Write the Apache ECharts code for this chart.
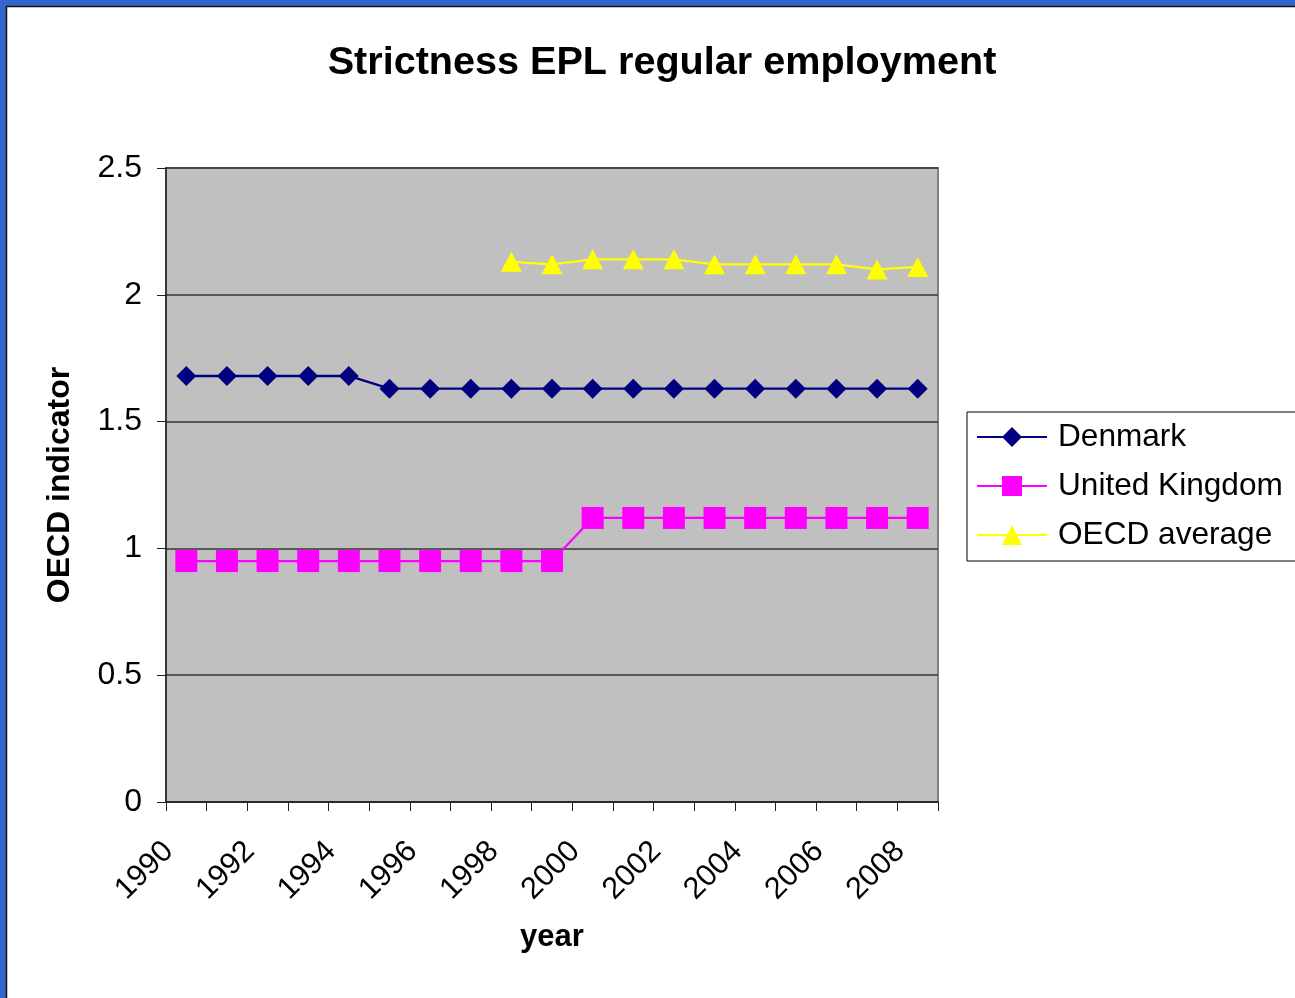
<!DOCTYPE html>
<html>
<head>
<meta charset="utf-8">
<script src="https://cdn.jsdelivr.net/npm/echarts@6/dist/echarts.min.js"></script>
<style>
  html, body { margin: 0; padding: 0; background: #ffffff; }
  #chart { width: 1295px; height: 998px; }
</style>
</head>
<body>
<div id="chart"></div>
<script>
// Employment protection legislation, regular contracts (OECD indicator)
const years = ['1990','1991','1992','1993','1994','1995','1996','1997','1998','1999',
               '2000','2001','2002','2003','2004','2005','2006','2007','2008'];
const denmark = [1.68,1.68,1.68,1.68,1.68,1.63,1.63,1.63,1.63,1.63,
                 1.63,1.63,1.63,1.63,1.63,1.63,1.63,1.63,1.63];
const unitedKingdom = [0.95,0.95,0.95,0.95,0.95,0.95,0.95,0.95,0.95,0.95,
                       1.12,1.12,1.12,1.12,1.12,1.12,1.12,1.12,1.12];
const oecdAverage = [null,null,null,null,null,null,null,null,2.13,2.12,
                     2.14,2.14,2.14,2.12,2.12,2.12,2.12,2.10,2.11];
const yTicks = { min: 0, max: 2.5, interval: 0.5 };

const FONT = 'Arial, "Liberation Sans", sans-serif';
const chart = echarts.init(document.getElementById('chart'), null, { renderer: 'canvas' });

chart.setOption({
  backgroundColor: '#ffffff',
  animation: false,
  title: {
    text: 'Strictness EPL regular employment',
    left: 657, top: 38, textAlign: 'center',
    textStyle: { fontFamily: FONT, fontSize: 39.6, fontWeight: 'bold', color: '#000' }
  },
  legend: {
    left: 967, top: 412,
    orient: 'vertical',
    backgroundColor: '#ffffff',
    borderColor: '#000000', borderWidth: 1,
    padding: [9, 80, 10, 9],
    itemWidth: 70, itemHeight: 25, itemGap: 17,
    textStyle: { fontFamily: FONT, fontSize: 31.6, color: '#000', lineHeight: 32, padding: [0, 0, 0, 6] },
    data: ['Denmark', 'United Kingdom', 'OECD average']
  },
  grid: {
    left: 166, top: 168, width: 772, height: 634,
    show: true, backgroundColor: '#c0c0c0', borderColor: '#808080', borderWidth: 2,
    containLabel: false
  },
  xAxis: {
    type: 'category',
    data: years,
    boundaryGap: true,
    name: 'year',
    nameLocation: 'middle',
    nameGap: 120,
    nameTextStyle: { fontFamily: FONT, fontSize: 31, fontWeight: 'bold', color: '#000' },
    axisLine: { lineStyle: { color: '#202020', width: 1.5 } },
    axisTick: { show: true, interval: 0, length: 9, lineStyle: { color: '#202020', width: 1 } },
    axisLabel: {
      interval: 1, rotate: 45, margin: 27,
      padding: [0, 25, 0, 0],
      fontFamily: FONT, fontSize: 30.5, color: '#000'
    },
    splitLine: { show: false }
  },
  yAxis: {
    type: 'value',
    min: yTicks.min, max: yTicks.max, interval: yTicks.interval,
    name: 'OECD indicator',
    nameLocation: 'middle',
    nameGap: 90,
    nameTextStyle: { fontFamily: FONT, fontSize: 32, fontWeight: 'bold', color: '#000' },
    axisLine: { show: true, lineStyle: { color: '#202020', width: 1.5 } },
    axisTick: { show: true, length: 9, lineStyle: { color: '#202020', width: 1 } },
    axisLabel: {
      margin: 24, fontFamily: FONT, fontSize: 32, color: '#000',
      formatter: v => String(v)
    },
    splitLine: { show: true, lineStyle: { color: '#353535', width: 1.6 } }
  },
  series: [
    {
      name: 'Denmark', type: 'line', data: denmark,
      symbol: 'diamond', symbolSize: 20,
      lineStyle: { color: '#000080', width: 2.4 },
      itemStyle: { color: '#000080' },
      z: 3
    },
    {
      name: 'United Kingdom', type: 'line', data: unitedKingdom,
      symbol: 'rect', symbolSize: 22,
      lineStyle: { color: '#ff00ff', width: 2.2 },
      itemStyle: { color: '#ff00ff' },
      z: 3
    },
    {
      name: 'OECD average', type: 'line', data: oecdAverage,
      symbol: 'triangle', symbolSize: [21, 20],
      connectNulls: false,
      lineStyle: { color: '#ffff00', width: 2.2 },
      itemStyle: { color: '#ffff00' },
      z: 3
    }
  ],
  graphic: [
    // window frame along the top and left edges
    { type: 'rect', shape: { x: 0, y: 0, width: 1295, height: 6 }, style: { fill: '#3366cc' }, z: 100 },
    { type: 'rect', shape: { x: 0, y: 0, width: 6, height: 998 }, style: { fill: '#3366cc' }, z: 100 },
    { type: 'line', shape: { x1: 6, y1: 6.5, x2: 1295, y2: 6.5 }, style: { stroke: '#111', lineWidth: 1.5 }, z: 100 },
    { type: 'line', shape: { x1: 6.5, y1: 6, x2: 6.5, y2: 998 }, style: { stroke: '#111', lineWidth: 1.5 }, z: 100 }
  ]
});
</script>
</body>
</html>
